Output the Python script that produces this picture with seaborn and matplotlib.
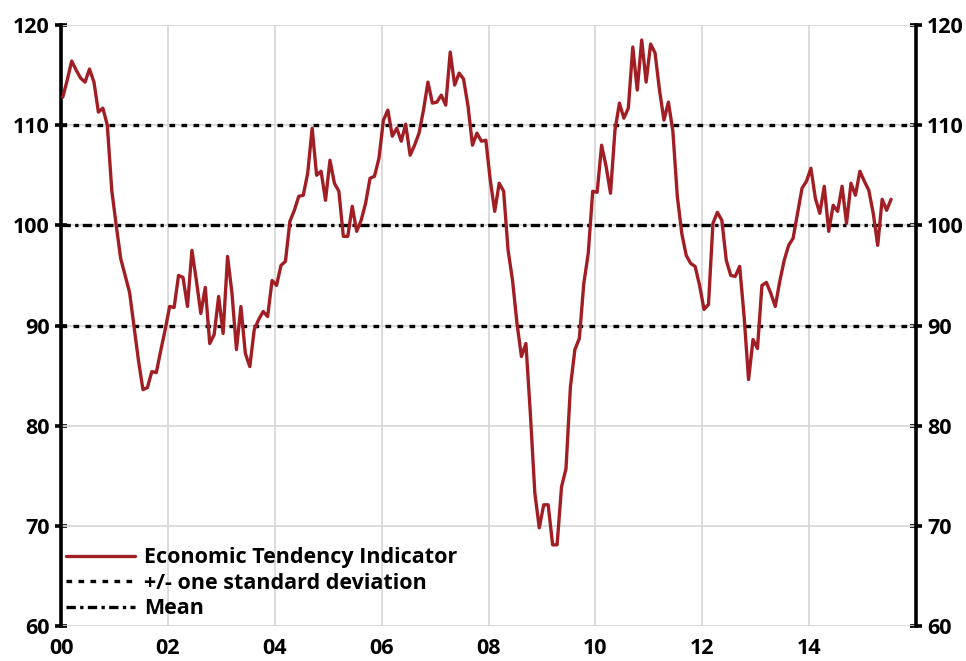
import numpy as np
import pandas as pd
import matplotlib
matplotlib.use("Agg")
import matplotlib.pyplot as plt
import seaborn as sns

# Monthly Economic Tendency Indicator, Jan 2000 - Jul 2015
eti_values = [
    112.8, 114.5, 116.4, 115.5, 114.7, 114.3, 115.6, 114.3, 111.3, 111.7, 110.0, 103.5,  # 2000
    100.0, 96.7, 95.0, 93.3, 89.9, 86.5, 83.6, 83.8, 85.4, 85.3, 87.5, 89.6,            # 2001
    91.9, 91.8, 95.0, 94.8, 91.9, 97.5, 94.5, 91.2, 93.8, 88.2, 89.1, 92.9,             # 2002
    89.2, 96.9, 93.2, 87.6, 91.9, 87.2, 85.9, 89.6, 90.6, 91.4, 90.9, 94.5,             # 2003
    94.0, 96.0, 96.4, 100.4, 101.5, 102.9, 103.0, 105.2, 109.7, 105.0, 105.4, 102.5,    # 2004
    106.5, 104.2, 103.4, 98.9, 98.9, 101.9, 99.4, 100.5, 102.2, 104.7, 104.9, 106.7,    # 2005
    110.5, 111.5, 108.9, 109.7, 108.4, 110.1, 107.0, 108.0, 109.2, 111.5, 114.3, 112.2, # 2006
    112.3, 113.0, 112.0, 117.3, 114.0, 115.2, 114.6, 111.9, 108.0, 109.2, 108.4, 108.5, # 2007
    104.5, 101.4, 104.2, 103.4, 97.5, 94.5, 90.2, 86.9, 88.2, 81.2, 73.3, 69.8,         # 2008
    72.1, 72.1, 68.1, 68.1, 73.9, 75.7, 83.9, 87.6, 88.7, 94.2, 97.2, 103.4,            # 2009
    103.3, 108.0, 105.9, 103.2, 109.5, 112.2, 110.7, 111.7, 117.8, 113.5, 118.5, 114.3, # 2010
    118.1, 117.2, 113.5, 110.5, 112.3, 109.4, 102.9, 99.2, 97.0, 96.2, 95.9, 94.0,      # 2011
    91.6, 92.1, 100.2, 101.3, 100.5, 96.5, 95.0, 94.9, 95.9, 90.9, 84.6, 88.6,          # 2012
    87.7, 94.0, 94.3, 93.2, 91.9, 94.4, 96.5, 98.0, 98.7, 101.2, 103.7, 104.4,          # 2013
    105.7, 102.7, 101.2, 103.9, 99.4, 102.0, 101.4, 103.9, 100.2, 104.2, 103.0, 105.4,  # 2014
    104.4, 103.5, 101.2, 98.0, 102.6, 101.5, 102.6,                                     # 2015
]
start_year = 2000
mean_level = 100
std_upper = 110
std_lower = 90
y_ticks = [60, 70, 80, 90, 100, 110, 120]
x_tick_years = [2000, 2002, 2004, 2006, 2008, 2010, 2012, 2014]
x_tick_labels = ["00", "02", "04", "06", "08", "10", "12", "14"]
labels = ["Economic Tendency Indicator", "+/- one standard deviation", "Mean"]

dates = start_year + (np.arange(len(eti_values)) + 0.4) / 12.0
df = pd.DataFrame({"date": dates, "value": eti_values})

sns.set_theme(style="white")
plt.rcParams["font.family"] = ["Open Sans", "DejaVu Sans"]
plt.rcParams["font.weight"] = "bold"
plt.rcParams["text.color"] = "black"

fig = plt.figure(figsize=(9.66, 6.61), dpi=100)
ax = fig.add_axes([61 / 966, 1 - 626 / 661, (916 - 61) / 966, (626 - 25) / 661])

red = "#A21E25"
sns.lineplot(data=df, x="date", y="value", ax=ax, color=red, linewidth=2.4,
             label=labels[0], zorder=5)
ax.axhline(std_upper, color="black", linewidth=2.4, linestyle=(0, (1.7, 1.9)),
           label=labels[1], zorder=3)
ax.axhline(std_lower, color="black", linewidth=2.4, linestyle=(0, (1.7, 1.9)), zorder=3)
ax.axhline(mean_level, color="black", linewidth=2.4, linestyle=(0, (2.8, 1.3, 1.0, 1.3)),
           label=labels[2], zorder=3)

ax.set_xlim(2000, 2016)
ax.set_ylim(60, 120)
ax.set_xticks(x_tick_years)
ax.set_xticklabels(x_tick_labels)
ax.set_yticks(y_ticks)
ax.set_xlabel("")
ax.set_ylabel("")

# grid
for yr in x_tick_years[1:] + [2016]:
    ax.axvline(yr, color="#d9d9d9", linewidth=1.3, zorder=1)
for yv in y_ticks:
    ax.axhline(yv, color="#d9d9d9", linewidth=1.3, zorder=1)

for side in ["top", "bottom"]:
    ax.spines[side].set_visible(False)
for side in ["left", "right"]:
    ax.spines[side].set_visible(True)
    ax.spines[side].set_color("black")
    ax.spines[side].set_linewidth(2.6)

ax.tick_params(axis="y", which="both", left=True, right=True, labelleft=True, labelright=True,
               direction="inout", length=8, width=2.6, color="black",
               labelsize=15.5, pad=4, labelcolor="black")
ax.tick_params(axis="x", bottom=False, labelsize=15.5, pad=3, labelcolor="black")
for lab in ax.get_xticklabels() + ax.get_yticklabels():
    lab.set_fontweight("bold")
for t in ax.yaxis.get_major_ticks():
    t.label2.set_fontweight("bold")
    t.label2.set_fontsize(15.5)

leg = ax.legend(loc="lower left", bbox_to_anchor=(-0.009, -0.01), frameon=False,
                prop={"weight": "bold", "size": 15.5}, handlelength=3.2,
                handletextpad=0.4, labelspacing=0.2, borderaxespad=0.2)
for txt in leg.get_texts():
    txt.set_color("black")

fig.savefig("out.png", dpi=100)
